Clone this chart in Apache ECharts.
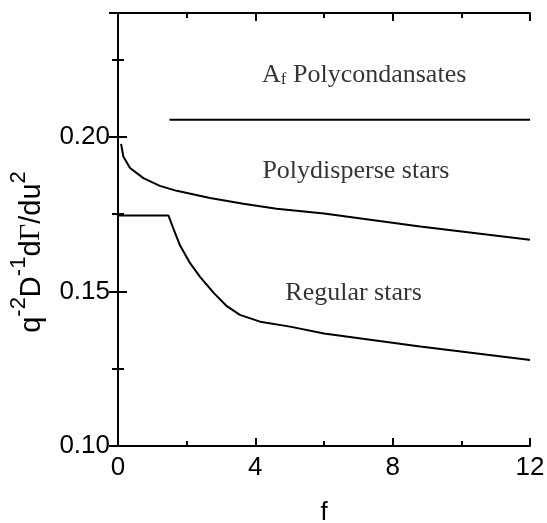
<!DOCTYPE html>
<html><head><meta charset="utf-8">
<script src="https://cdn.jsdelivr.net/npm/echarts@6/dist/echarts.min.js"></script>
<style>html,body{margin:0;padding:0;background:#fff}#c{width:547px;height:523px}</style>
</head><body><div id="c"></div>
<script>
var xTicks = [0, 4, 8, 12];
var yTicks = [0.10, 0.15, 0.20];
var fAf = [1.5, 12];
var gAf = [0.2055, 0.2055];
var fPoly = [0.09, 0.155, 0.35, 0.74, 1.22, 1.71, 2.68, 3.65, 4.62, 6.0, 8.8, 12];
var gPoly = [0.1977, 0.1936, 0.1899, 0.1866, 0.1841, 0.1825, 0.1802, 0.1783, 0.1767, 0.1752, 0.1710, 0.1667];
var fReg = [0, 1.47, 1.61, 1.80, 2.10, 2.39, 2.78, 3.17, 3.55, 4.14, 5.01, 6.0, 8.8, 12];
var gReg = [0.1745, 0.1745, 0.1704, 0.1650, 0.1591, 0.1547, 0.1496, 0.1452, 0.1424, 0.1402, 0.1386, 0.1364, 0.1322, 0.1278];
var annotText = ['{n|A}{sub|f}{n| Polycondansates}', '{n|Polydisperse stars}', '{n|Regular stars}'];
var annotF = [7.17, 6.93, 6.86];
var annotG = [0.2200, 0.1887, 0.1494];

function zip(a, b) { return a.map(function (v, i) { return [v, b[i]]; }); }
var chart = echarts.init(document.getElementById('c'));
var axisLine = { lineStyle: { color: '#000', width: 2 } };
var lbl = { fontFamily: 'Liberation Sans', fontSize: 26, color: '#000' };
var serif = 'Liberation Serif';
chart.setOption({
  animation: false,
  grid: { left: 118, right: 17, top: 13, bottom: 77, containLabel: false, outerBoundsMode: 'none' },
  xAxis: [{
    type: 'value', min: 0, max: 12, interval: 4, position: 'bottom',
    name: 'f', nameLocation: 'middle', nameGap: 54,
    nameTextStyle: { fontFamily: 'Liberation Sans', fontSize: 26, color: '#000' },
    axisLine: axisLine,
    axisTick: { inside: true, length: 8, lineStyle: { color: '#000', width: 2 } },
    minorTick: { show: true, splitNumber: 2, length: 5, lineStyle: { color: '#000', width: 2 } },
    axisLabel: Object.assign({ margin: 9, formatter: function (v) { return xTicks.indexOf(v) >= 0 ? String(v) : ''; } }, lbl),
    splitLine: { show: false }
  }, {
    type: 'value', min: 0, max: 12, interval: 4, position: 'top',
    axisLine: axisLine,
    axisTick: { inside: true, length: 8, lineStyle: { color: '#000', width: 2 } },
    minorTick: { show: true, splitNumber: 2, length: 5, lineStyle: { color: '#000', width: 2 } },
    axisLabel: { show: false }, splitLine: { show: false }
  }],
  yAxis: [{
    type: 'value', min: 0.10, max: 0.24, interval: 0.05, position: 'left',
    name: '{n|q}{s|-2}{n|D}{s|-1}{n|d}{g|Γ}{n|/du}{s|2}',
    nameLocation: 'middle', nameGap: 72, nameRotate: 90,
    nameTextStyle: {
      padding: [0, 45, 0, 0],
      rich: {
        n: { fontFamily: 'Liberation Sans', fontSize: 29, color: '#000', verticalAlign: 'bottom', lineHeight: 38 },
        g: { fontFamily: serif, fontSize: 29, color: '#000', verticalAlign: 'bottom', lineHeight: 38 },
        s: { fontFamily: 'Liberation Sans', fontSize: 22, color: '#000', verticalAlign: 'top', lineHeight: 38 }
      }
    },
    axisLine: axisLine,
    axisTick: { inside: true, length: 9, lineStyle: { color: '#000', width: 2 } },
    minorTick: { show: true, splitNumber: 2, length: 6, lineStyle: { color: '#000', width: 2 } },
    axisLabel: Object.assign({ margin: 8, formatter: function (v) {
      for (var i = 0; i < yTicks.length; i++) if (Math.abs(yTicks[i] - v) < 1e-9) return yTicks[i].toFixed(2);
      return '';
    } }, lbl),
    splitLine: { show: false }
  }, {
    type: 'value', min: 0.10, max: 0.24, interval: 0.05, position: 'right',
    axisLine: axisLine,
    axisTick: { inside: true, length: 9, lineStyle: { color: '#000', width: 2 } },
    minorTick: { show: true, splitNumber: 2, length: 6, lineStyle: { color: '#000', width: 2 } },
    axisLabel: { show: false }, splitLine: { show: false }
  }],
  series: [
    { type: 'line', data: zip(fAf, gAf), showSymbol: false, lineStyle: { color: '#000', width: 2 } },
    { type: 'line', data: zip(fPoly, gPoly), showSymbol: false, smooth: false, lineStyle: { color: '#000', width: 2 } },
    { type: 'line', data: zip(fReg, gReg), showSymbol: false, smooth: false, lineStyle: { color: '#000', width: 2 } },
    {
      type: 'scatter', symbolSize: 0, silent: true,
      data: annotF.map(function (f, i) { return { value: [f, annotG[i]], label: { formatter: annotText[i] } }; }),
      label: {
        show: true, position: 'inside', align: 'center', verticalAlign: 'middle',
        rich: {
          n: { fontFamily: serif, fontSize: 26, color: '#000' },
          sub: { fontFamily: serif, fontSize: 17, color: '#000', verticalAlign: 'bottom', padding: [10, 0, 0, 0] }
        }
      }
    }
  ]
});
</script></body></html>
